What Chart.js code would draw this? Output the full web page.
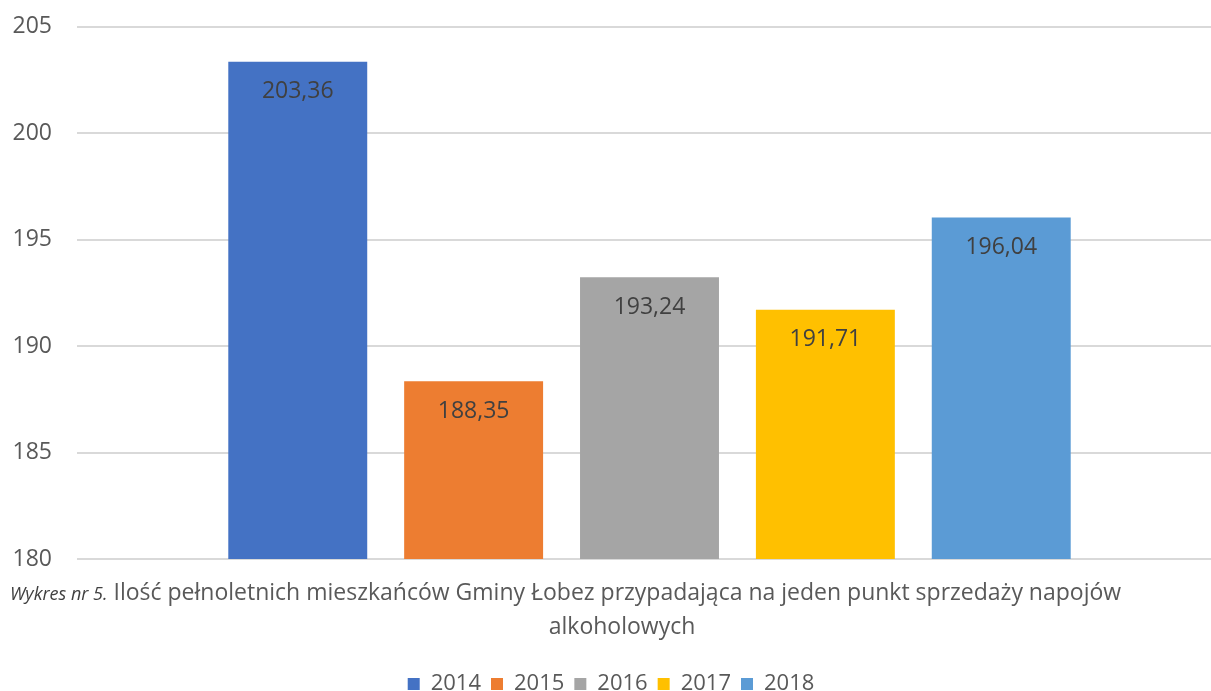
<!DOCTYPE html>
<html lang="pl">
  <head>
    <meta charset="UTF-8" />
    <title>Wykres nr 5</title>
    <script src="https://cdn.jsdelivr.net/npm/chart.js"></script>
    <style>
      html, body { margin: 0; padding: 0; background: #fff; overflow: hidden; }
      #wrap { position: relative; width: 1222px; height: 717px; margin-top: -12px; }
      .cap { position: absolute; font-family: "Open Sans", sans-serif; color: #595959; white-space: nowrap; }
      .cap i { font-size: 18px; color: #404040; }
    </style>
  </head>
  <body>
    <div id="wrap">
      <canvas id="chart"></canvas>
      <div class="cap" style="left:10px; top:587px; font-size:23px;"><i>Wykres nr 5.</i> Ilość pełnoletnich mieszkańców Gminy Łobez przypadająca na jeden punkt sprzedaży napojów</div>
      <div class="cap" style="left:0; width:1244px; text-align:center; top:621px; font-size:23px;">alkoholowych</div>
    </div>

    <script>
      const years = ["2014", "2015", "2016", "2017", "2018"];
      const values = [203.36, 188.35, 193.24, 191.71, 196.04];
      const colors = ["#4472C4", "#ED7D31", "#A5A5A5", "#FFC000", "#5B9BD5"];
      const yTicks = [180, 185, 190, 195, 200, 205];

      const barLabels = {
        id: "barLabels",
        afterDatasetsDraw(chart) {
          const ctx = chart.ctx;
          ctx.save();
          ctx.font = '23px "Open Sans"';
          ctx.fillStyle = "#404040";
          ctx.textAlign = "center";
          ctx.textBaseline = "middle";
          chart.data.datasets.forEach((ds, i) => {
            const bar = chart.getDatasetMeta(i).data[0];
            ctx.fillText(ds.data[0].toFixed(2).replace(".", ","), bar.x, bar.y + 30);
          });
          ctx.restore();
        },
      };

      new Chart(document.getElementById("chart"), {
        type: "bar",
        data: {
          labels: [""],
          datasets: years.map((y, i) => ({
            label: y,
            data: [values[i]],
            backgroundColor: colors[i],
          })),
        },
        options: {
          responsive: true,
          maintainAspectRatio: false,
          animation: false,
          categoryPercentage: 0.768,
          barPercentage: 0.79,
          layout: { padding: { top: 15, left: 0, right: 0, bottom: 0 } },
          scales: {
            x: {
              grid: { display: false },
              border: { display: false },
              ticks: { display: false },
              afterFit: (s) => { s.height = 104; },
            },
            y: {
              min: 180,
              max: 205,
              afterBuildTicks: (s) => { s.ticks = yTicks.map((v) => ({ value: v })); },
              afterFit: (s) => { s.width = 77; },
              border: { display: false },
              grid: { color: "#d9d9d9", lineWidth: 2, drawTicks: false },
              ticks: {
                padding: 25,
                color: "#595959",
                font: { family: "Open Sans", size: 23 },
              },
            },
          },
          plugins: {
            tooltip: { enabled: false },
            legend: {
              position: "bottom",
              labels: {
                boxWidth: 12,
                boxHeight: 12,
                padding: 10,
                color: "#595959",
                font: { family: "Open Sans", size: 22 },
              },
            },
          },
        },
        plugins: [barLabels],
      });
    </script>
  </body>
</html>
